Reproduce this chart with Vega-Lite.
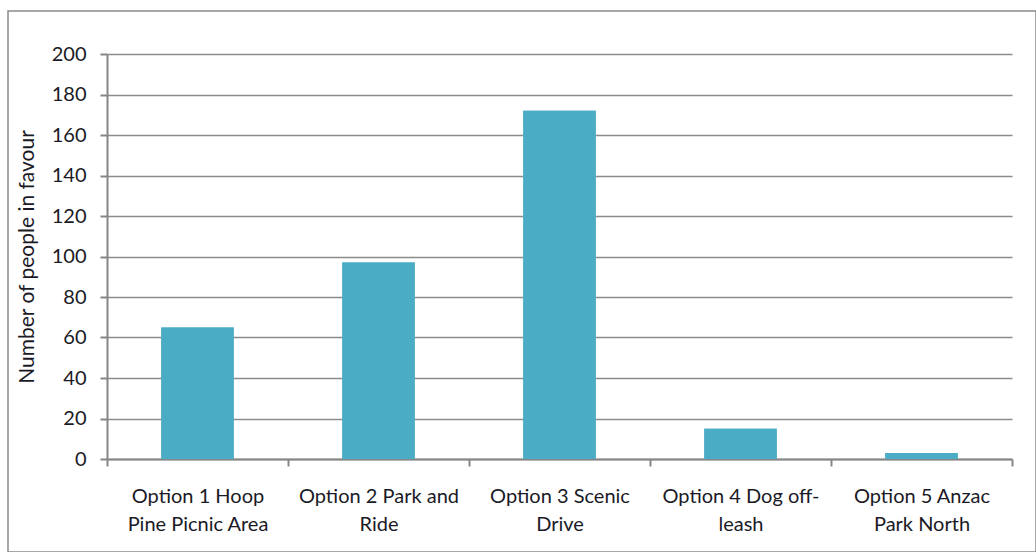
{
  "$schema": "https://vega.github.io/schema/vega-lite/v6.json",
  "description": "Number of people in favour of each option",
  "autosize": "none",
  "padding": {"left": 8, "top": 11, "right": 0, "bottom": 0},
  "width": 1028,
  "height": 541,
  "background": "white",
  "config": {
    "view": {"stroke": "#8a8a8a", "strokeWidth": 1.5},
    "font": "Lato",
    "axis": {
      "labelFont": "Lato",
      "labelFontSize": 20,
      "labelColor": "#1a1a26",
      "titleFont": "Lato",
      "titleFontSize": 21,
      "titleFontWeight": "normal",
      "titleColor": "#1a1a26",
      "domainColor": "#868686",
      "domainWidth": 2,
      "tickColor": "#868686",
      "tickWidth": 2,
      "tickSize": 7,
      "gridColor": "#8c8c8c",
      "gridWidth": 1.5
    }
  },
  "data": {
    "values": [
      {"option": "Option 1 Hoop Pine Picnic Area", "people": 65},
      {"option": "Option 2 Park and Ride", "people": 97},
      {"option": "Option 3 Scenic Drive", "people": 172},
      {"option": "Option 4 Dog off-leash", "people": 15},
      {"option": "Option 5 Anzac Park North", "people": 3}
    ]
  },
  "layer": [
    {
      "mark": {"type": "bar", "color": "#4bacc6"},
      "encoding": {
        "x": {
          "field": "option",
          "type": "nominal",
          "sort": null,
          "scale": {"range": [99, 1004], "paddingInner": 0.6, "paddingOuter": 0.3},
          "axis": {
            "title": null,
            "orient": "bottom",
            "labelAngle": 0,
            "offset": -93,
            "tickOffset": -90.5,
            "labelOffset": 90.5,
            "labelPadding": 20,
            "labelLineHeight": 28,
            "labelLimit": 0,
            "labelExpr": "datum.label == 'Option 1 Hoop Pine Picnic Area' ? ['Option 1 Hoop', 'Pine Picnic Area'] : datum.label == 'Option 2 Park and Ride' ? ['Option 2 Park and', 'Ride'] : datum.label == 'Option 3 Scenic Drive' ? ['Option 3 Scenic', 'Drive'] : datum.label == 'Option 4 Dog off-leash' ? ['Option 4 Dog off-', 'leash'] : datum.label == 'Option 5 Anzac Park North' ? ['Option 5 Anzac', 'Park North'] : ''"
          }
        },
        "y": {
          "field": "people",
          "type": "quantitative",
          "scale": {"domain": [0, 200], "nice": false, "range": [448, 43]},
          "axis": {
            "title": "Number of people in favour",
            "values": [0, 20, 40, 60, 80, 100, 120, 140, 160, 180, 200],
            "offset": -99,
            "labelPadding": 14,
            "titlePadding": 14,
            "grid": true
          }
        }
      }
    },
    {
      "mark": {"type": "bar", "color": "#4bacc6"},
      "encoding": {
        "x": {
          "field": "option",
          "type": "nominal",
          "sort": null,
          "axis": {
            "title": null,
            "orient": "bottom",
            "values": ["Option 5 Anzac Park North"],
            "offset": -93,
            "tickOffset": 90.5,
            "labels": false,
            "domain": false
          }
        },
        "y": {
          "field": "people",
          "type": "quantitative"
        }
      }
    }
  ],
  "resolve": {"axis": {"x": "independent"}}
}
